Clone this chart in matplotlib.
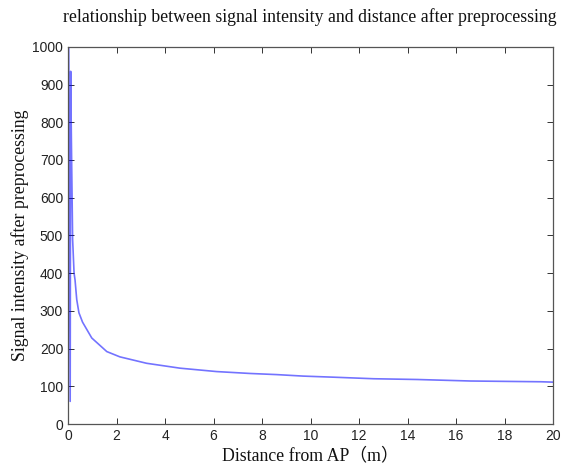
import matplotlib
matplotlib.use("Agg")
import matplotlib.pyplot as plt

# 距离(m)与预处理后信号强度
distance = [0.0, 0.03, 0.09, 0.11, 0.14, 0.19, 0.25, 0.29, 0.36, 0.45, 0.6, 0.98, 1.6, 2.14, 3.24,
            4.62, 6.13, 7.5, 8.6, 9.7, 11.0, 12.6, 14.4, 16.6, 19.5, 20.0]
intensity = [0, 1000, 60, 935, 750, 490, 400, 382, 330, 295, 270, 228, 192, 178, 161,
             148, 139, 134, 131, 127, 124, 120, 118, 114, 112, 111]

x_ticks = list(range(0, 21, 2))
y_ticks = list(range(0, 1001, 100))

serif = ["Liberation Serif", "Noto Sans CJK SC", "DejaVu Sans"]

fig = plt.figure(figsize=(5.62, 4.68), dpi=100)
ax = fig.add_axes([0.121, 0.094, 0.863, 0.806])

ax.plot(distance, intensity, color="#0000ff", alpha=0.55, lw=1.2)

ax.set_xlim(0, 20)
ax.set_ylim(0, 1000)
ax.set_xticks(x_ticks)
ax.set_yticks(y_ticks)
ax.tick_params(direction="in", top=True, right=True, length=4, width=0.7,
               colors="#333333", labelcolor="#222222", labelsize=10)
for lab in ax.get_xticklabels() + ax.get_yticklabels():
    lab.set_family("Liberation Sans")
for s in ax.spines.values():
    s.set_color("#555555")
    s.set_linewidth(0.9)

fig.text(0.552, 0.963, "relationship between signal intensity and distance after preprocessing",
         ha="center", va="center", fontsize=12.8, family=serif, color="#111111")
ax.set_xlabel("Distance from AP（m）", fontsize=12.8, family=serif, color="#111111", labelpad=3)
ax.set_ylabel("Signal intensity after preprocessing", fontsize=12.8, family=serif,
              color="#111111", labelpad=2)

fig.savefig("out.png", dpi=100)
